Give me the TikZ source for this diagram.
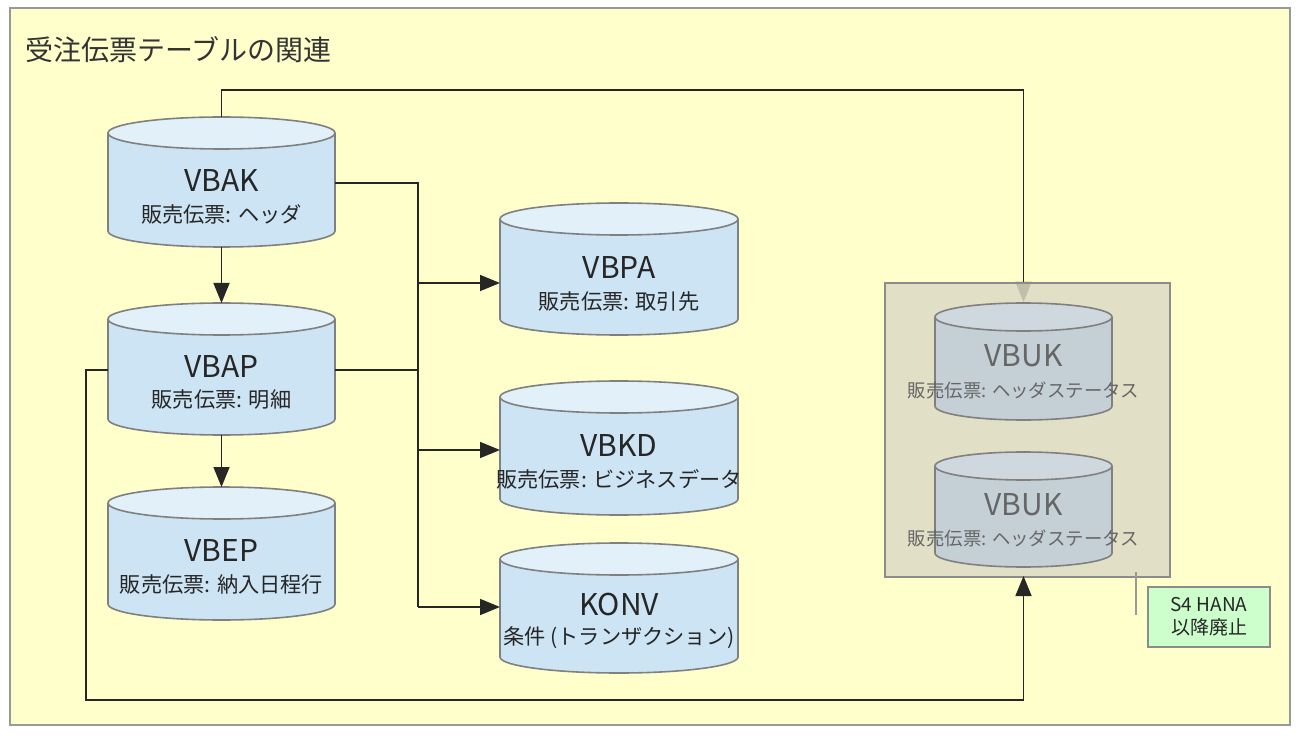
\documentclass[tikz,border=0pt]{standalone}
\usepackage{fontspec}
\setmainfont{Noto Sans CJK JP}
\usetikzlibrary{arrows.meta}
\definecolor{bg}{HTML}{FFFFCC}
\definecolor{cylb}{HTML}{CDE4F4}
\definecolor{cylt}{HTML}{E2F0FA}
\definecolor{gcylb}{HTML}{C4CFD6}
\definecolor{gcylt}{HTML}{CFD8DE}
\definecolor{panel}{HTML}{DCDAC4}
\definecolor{grn}{HTML}{CCFFCC}
\tikzset{conn/.style={draw=black!85,line width=0.8pt},
  arr/.style={conn,-{Triangle[length=10pt,width=8pt]}}}
% #1 name #2 cx #3 tc #4 bc #5 rx #6 ry #7 body #8 top
\newcommand\mycyl[8]{%
  \fill[#7,draw=black!50,line width=0.8pt] (#2,#4) ellipse [x radius=#5pt,y radius=#6pt];
  \fill[#7] (#2-#5,#3) rectangle (#2+#5,#4);
  \draw[black!50,line width=0.8pt] (#2-#5,#3)--(#2-#5,#4) (#2+#5,#3)--(#2+#5,#4);
  \filldraw[fill=#8,draw=black!50,line width=0.8pt] (#2,#3) ellipse [x radius=#5pt,y radius=#6pt];
  \coordinate (#1-n) at (#2,#3-#6);
  \coordinate (#1-s) at (#2,#4+#6);
  \coordinate (#1-w) at (#2-#5,#3);
  \coordinate (#1-e) at (#2+#5,#3);
}
\begin{document}
\begin{tikzpicture}[x=1pt,y=-1pt,scale=0.5]
\useasboundingbox (0,0) rectangle (1300,737);
\filldraw[fill=bg,draw=black!40,line width=1pt] (10,8) rectangle (1290,725);
\node[anchor=west,font=\fontsize{14pt}{16pt}\selectfont,text=black!80] (title) at (18,50) {受注伝票テーブルの関連};
\mycyl{vbak}{221.5}{133}{231}{113.5}{16}{cylb}{cylt}
\mycyl{vbap}{221.5}{319}{419}{113.5}{16}{cylb}{cylt}
\mycyl{vbep}{221.5}{503}{604}{113.5}{16}{cylb}{cylt}
\mycyl{vbpa}{619}{219}{319}{119}{16}{cylb}{cylt}
\mycyl{vbkd}{619}{397}{499}{119}{16}{cylb}{cylt}
\mycyl{konv}{619}{559}{657}{119}{16}{cylb}{cylt}
\tikzset{nm/.style={font=\fontsize{15pt}{17pt}\selectfont,text=black!85},
 sb/.style={font=\fontsize{10.6pt}{12pt}\selectfont,text=black!85}}
\node[nm] (t1) at (221.5,181) {VBAK}; \node[sb] (s1) at (221.5,214) {販売伝票: ヘッダ};
\node[nm] (t2) at (221.5,367) {VBAP}; \node[sb] (s2) at (221.5,400) {販売伝票: 明細};
\node[nm] (t3) at (221.5,551) {VBEP}; \node[sb] (s3) at (221.5,584) {販売伝票: 納入日程行};
\node[nm] (t4) at (619,268) {VBPA}; \node[sb] (s4) at (619,301) {販売伝票: 取引先};
\node[nm] (t5) at (619,446) {VBKD}; \node[sb] (s5) at (619,479) {販売伝票: ビジネスデータ};
\node[nm] (t6) at (619,605) {KONV}; \node[sb] (s6) at (619,638) {条件 (トランザクション)};
% connectors
\coordinate (j1) at (418,183);
\coordinate (j2) at (418,607);
\coordinate (jp) at (418,370);
\coordinate (ka) at (335,183);
\coordinate (pa) at (335,370);
\coordinate (pw) at (108,370);
\draw[conn] (ka) -- (j1) -- (j2);
\draw[conn] (pa) -- (jp);
\draw[arr] (418,283) -- (500,283);
\draw[arr] (418,450) -- (500,450);
\draw[arr] (j2) -- (500,607);
\draw[arr] (vbak-s) -- (vbap-n);
\draw[arr] (vbap-s) -- (vbep-n);
\coordinate (u1) at (221.5,90); \coordinate (u2) at (1023.5,90);
\coordinate (b1) at (86,370); \coordinate (b2) at (86,700); \coordinate (b3) at (1023.5,700);
\coordinate (ub) at (1023.5,576);
\coordinate (ut) at (1023.5,302);
\draw[arr] (vbak-n) -- (u1) -- (u2) -- (ut);
\filldraw[fill=panel,fill opacity=0.85,draw=black!45,line width=0.8pt] (885,283) rectangle (1170,577);
\draw[arr] (pw) -- (b1) -- (b2) -- (b3) -- (ub);
\mycyl{uk1}{1023.5}{317}{406}{88.5}{14}{gcylb}{gcylt}
\mycyl{uk2}{1023.5}{466}{553}{88.5}{14}{gcylb}{gcylt}
\tikzset{gn/.style={nm,text=black!60},gs/.style={font=\fontsize{9.2pt}{11pt}\selectfont,text=black!60}}
\node[gn] (t7) at (1023.5,356) {VBUK}; \node[gs] (s7) at (1023.5,390) {販売伝票: ヘッダステータス};
\node[gn] (t8) at (1023.5,505) {VBUK}; \node[gs] (s8) at (1023.5,538) {販売伝票: ヘッダステータス};
\draw[black!40,line width=0.8pt] (1136,572) -- (1136,615);
\filldraw[fill=grn,draw=black!45,line width=0.8pt] (1148,587) rectangle (1270,647);
\node[font=\fontsize{9.5pt}{11.5pt}\selectfont,align=center,text=black!85] (note) at (1209,617) {S4 HANA\\以降廃止};
\end{tikzpicture}
\end{document}
